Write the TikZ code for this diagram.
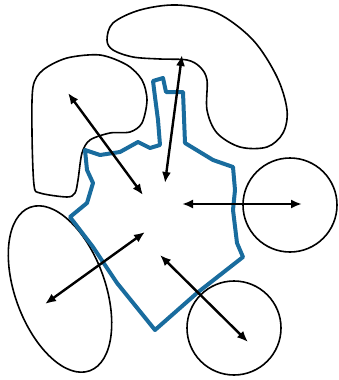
\documentclass[tikz,border=0pt]{standalone}
\usepackage{tikz}
\usetikzlibrary{arrows.meta}

\definecolor{wallblue}{RGB}{25,108,158}

\begin{document}
\begin{tikzpicture}[
    x=1pt, y=-1pt,
    >={Latex[length=11pt,width=9pt]},
    zoneline/.style={draw=black, line width=1.6pt},
    wallline/.style={draw=wallblue, line width=4pt, line join=round},
    pusharrow/.style={<->, line width=2.4pt}
]
\useasboundingbox (0,0) rectangle (339,380);

% Zones
\draw[zoneline] plot[smooth cycle, tension=0.55] coordinates {
    (107,40) (113,23) (140,10) (177,5) (217,13) (253,40) (277,77)
    (287,110) (283,133) (267,147) (240,147) (217,133) (207,110)
    (207,80) (200,67) (187,60) (160,59) (133,57) (113,50)};
\draw[zoneline] plot[smooth cycle, tension=0.5] coordinates {
    (33,87) (43,70) (67,58) (100,55) (127,65) (142,80) (147,100)
    (142,123) (130,132) (110,133) (90,140) (82,153) (78,180)
    (75,193) (67,197) (40,193) (34,185) (32,133)};
\draw[zoneline] (60,289) ellipse[x radius=45, y radius=87, rotate=20];
\draw[zoneline] (290,205) circle[radius=47];
\draw[zoneline] (234,328) circle[radius=47];

% Wall
\draw[wallline] (85,150) -- (100,155) -- (120,152) -- (138,142)
    -- (150,148) -- (160,145) -- (158,120) -- (155,97) -- (153,81)
    -- (163,78) -- (166,92) -- (183,92) -- (185,143) -- (213,160)
    -- (233,167) -- (235,190) -- (233,210) -- (237,243) -- (243,257)
    -- (197,293) -- (155,330) -- (117,283) -- (93,247) -- (70,217)
    -- (87,203) -- (93,183) -- (87,170) -- cycle;

% Ends
\coordinate (topleft) at (68,93);
\coordinate (topleftin) at (143,195);
\coordinate (top) at (182,55);
\coordinate (topin) at (165,183);
\coordinate (right) at (302,204);
\coordinate (rightin) at (182,204);
\coordinate (lowleft) at (45,304);
\coordinate (lowleftin) at (145,232);
\coordinate (lowright) at (248,342);
\coordinate (lowrightin) at (160,255);

% Arrows
\draw[pusharrow] (topleft) -- (topleftin);
\draw[pusharrow] (top) -- (topin);
\draw[pusharrow] (rightin) -- (right);
\draw[pusharrow] (lowleftin) -- (lowleft);
\draw[pusharrow] (lowrightin) -- (lowright);

\end{tikzpicture}
\end{document}
